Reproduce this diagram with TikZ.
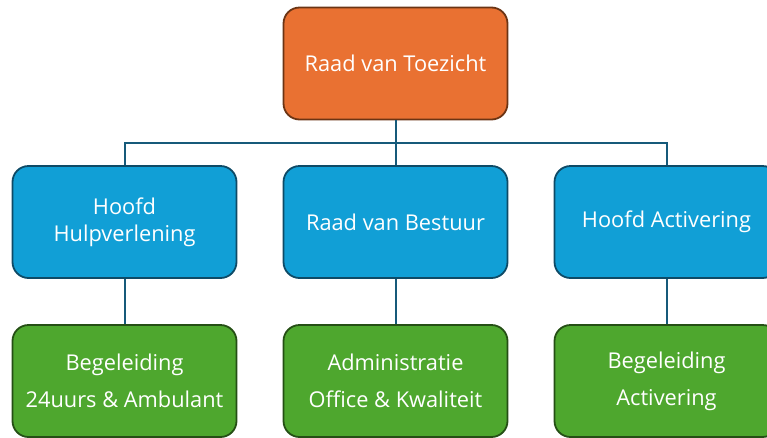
\documentclass[tikz,border=0pt]{standalone}
\usepackage{fontspec}
\setmainfont{Open Sans}
\definecolor{orfill}{HTML}{E97132}
\definecolor{ordraw}{HTML}{6B3414}
\definecolor{blfill}{HTML}{119FD6}
\definecolor{bldraw}{HTML}{0E4A66}
\definecolor{grfill}{HTML}{4EA72E}
\definecolor{grdraw}{HTML}{254F15}
\definecolor{linecol}{HTML}{165A7A}
\tikzset{
  box/.style={rounded corners=16pt, minimum width=224pt, minimum height=112pt, line width=1.8pt,
    align=center, text=white, font=\fontsize{21.8}{27}\selectfont, inner sep=0pt},
  topbox/.style={box, fill=orfill, draw=ordraw},
  midbox/.style={box, fill=blfill, draw=bldraw},
  botbox/.style={box, fill=grfill, draw=grdraw},
  conn/.style={draw=linecol, line width=2pt}
}
\begin{document}
\begin{tikzpicture}[x=1pt,y=-1pt]
\useasboundingbox (0,0) rectangle (767,437);
\clip (0,0) rectangle (767,437);
\node[topbox] (rvt) at (395.5,63.5) {Raad van Toezicht};
\node[midbox] (hh) at (124.5,222) {Hoofd\\Hulpverlening};
\node[midbox] (rvb) at (395.5,222) {Raad van Bestuur};
\node[midbox] (ha) at (666.5,222) {Hoofd Activering};
\node[botbox] (b1) at (124.5,381) {Begeleiding\\[10pt]24uurs \& Ambulant};
\node[botbox] (b2) at (395.5,381) {Administratie\\[10pt]Office \& Kwaliteit};
\node[botbox] (b3) at (666.5,381) {Begeleiding\\[10pt]Activering};
\coordinate (j) at (395.5,143);
\draw[conn] (rvt.south) -- (j);
\draw[conn] (hh.north) |- (j) -| (ha.north);
\draw[conn] (j) -- (rvb.north);
\draw[conn] (hh.south) -- (b1.north);
\draw[conn] (rvb.south) -- (b2.north);
\draw[conn] (ha.south) -- (b3.north);
\end{tikzpicture}
\end{document}
